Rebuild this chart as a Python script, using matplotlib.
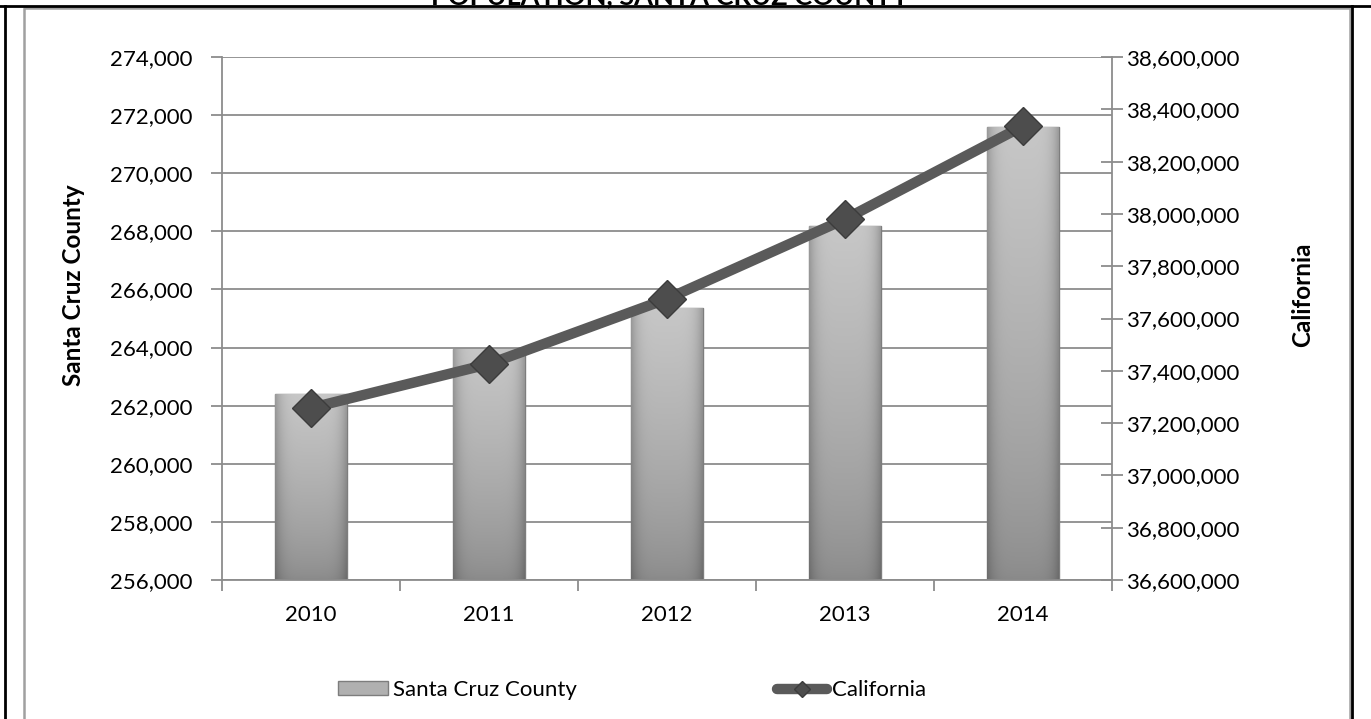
import matplotlib.pyplot as plt
import numpy as np
from matplotlib.lines import Line2D
from matplotlib.patches import Rectangle
from matplotlib.ticker import FuncFormatter, MultipleLocator

years = ['2010', '2011', '2012', '2013', '2014']
santa_cruz = [262400, 263950, 265370, 268180, 271590]
california = [37258000, 37426000, 37675000, 37980000, 38336000]

plt.rcParams['font.family'] = ['Lato', 'DejaVu Sans']

W, H = 1371, 719
fig = plt.figure(figsize=(W / 100, H / 100), dpi=100)
ax = fig.add_axes([222 / W, 1 - 580 / H, 890 / W, 523 / H])
ax2 = ax.twinx()

grid_c = '#8c8c8c'
x = np.arange(len(years))

# bars with a vertical/horizontal shading
bars = ax.bar(x, santa_cruz, width=0.4, color='#b4b4b4', edgecolor='#7d7d7d',
              linewidth=1, zorder=2)
ny, nx = 120, 60
vert = np.linspace(0, 1, ny)[:, None]
horiz = 1 - 0.22 * np.abs(np.linspace(-1, 1, nx))[None, :] ** 5
shade = (0.54 + 0.24 * vert ** 0.7) * horiz
img = np.dstack([shade, shade, shade])
for xi, v, b in zip(x, santa_cruz, bars):
    im = ax.imshow(img, extent=(xi - 0.2, xi + 0.2, 256000, v), origin='lower',
                   aspect='auto', zorder=2.5, interpolation='bilinear')
    im.set_clip_path(b)

ax.set_xlim(-0.5, len(years) - 0.5)
ax.set_ylim(256000, 274000)
ax.yaxis.set_major_locator(MultipleLocator(2000))
ax.yaxis.set_major_formatter(FuncFormatter(lambda v, p: f'{v:,.0f}'))
ax.yaxis.grid(True, color=grid_c, lw=1.3)
ax.set_axisbelow(True)

ax.set_xticks(np.arange(-0.5, len(years), 1))
ax.set_xticklabels([])
ax.set_xticks(x, minor=True)
ax.set_xticklabels(years, minor=True)
ax.tick_params(axis='x', which='major', direction='out', length=8, color=grid_c, width=1.3)
ax.tick_params(axis='x', which='minor', length=0, labelsize=16, pad=18)
ax.tick_params(axis='y', direction='out', length=8, color=grid_c, width=1.3,
               labelsize=16, pad=13)

for s in ax.spines.values():
    s.set_color(grid_c)
    s.set_linewidth(1.3)
ax.spines['top'].set_visible(False)
ax.spines['right'].set_visible(False)

ax2.plot(x, california, color='#5a5a5a', lw=7.5, marker='D', markersize=19,
         markerfacecolor='#4d4d4d', markeredgecolor='#3c3c3c', zorder=3)
ax2.set_ylim(36600000, 38600000)
ax2.yaxis.set_major_locator(MultipleLocator(200000))
ax2.yaxis.set_major_formatter(FuncFormatter(lambda v, p: f'{v:,.0f}'))
ax2.tick_params(axis='y', direction='inout', length=16, color=grid_c, width=1.3,
                labelsize=16, pad=2)
for k, s in ax2.spines.items():
    s.set_visible(k == 'right')
ax2.spines['right'].set_color(grid_c)
ax2.spines['right'].set_linewidth(1.3)

ax.set_ylabel('Santa Cruz County', fontweight='bold', fontsize=17.5)
ax.yaxis.set_label_coords((85 - 222) / 890, 0.564)
ax2.set_ylabel('California', fontweight='bold', fontsize=17.5)
ax2.yaxis.set_label_coords((1291 - 222) / 890, 0.545)

handles = [Rectangle((0, 0), 1, 1, facecolor='#b0b0b0', edgecolor='#7d7d7d'),
           Line2D([], [], color='#5a5a5a', lw=7.5, marker='D', markersize=8,
                  markerfacecolor='#4d4d4d', markeredgecolor='#3c3c3c',
                  solid_capstyle='round')]
fig.legend(handles, ['Santa Cruz County', 'California'], loc='center',
           bbox_to_anchor=(632 / W, 1 - 690 / H), ncol=2, frameon=False,
           fontsize=16, handlelength=2.25, handleheight=0.55,
           handletextpad=0.22, columnspacing=9.0)

# frames
fig.add_artist(Line2D([24 / W, 24 / W, 1350 / W, 1350 / W],
                      [0, 1 - 8 / H, 1 - 8 / H, 0], color='#a0a0a0', lw=1.8,
                      transform=fig.transFigure))
fig.add_artist(Line2D([5 / W, 5 / W], [0, 1 - 6 / H], color='black', lw=2,
                      transform=fig.transFigure))
fig.add_artist(Line2D([1352 / W, 1352 / W], [0, 1 - 6 / H], color='black', lw=2,
                      transform=fig.transFigure))
fig.add_artist(Line2D([0, 1], [1 - 6 / H, 1 - 6 / H], color='black', lw=2,
                      transform=fig.transFigure))

fig.text(670 / W, 1 - 4 / H, 'POPULATION, SANTA CRUZ COUNTY', ha='center',
         va='baseline', fontweight='bold', fontsize=19.5)

fig.savefig('out.png', dpi=100)
